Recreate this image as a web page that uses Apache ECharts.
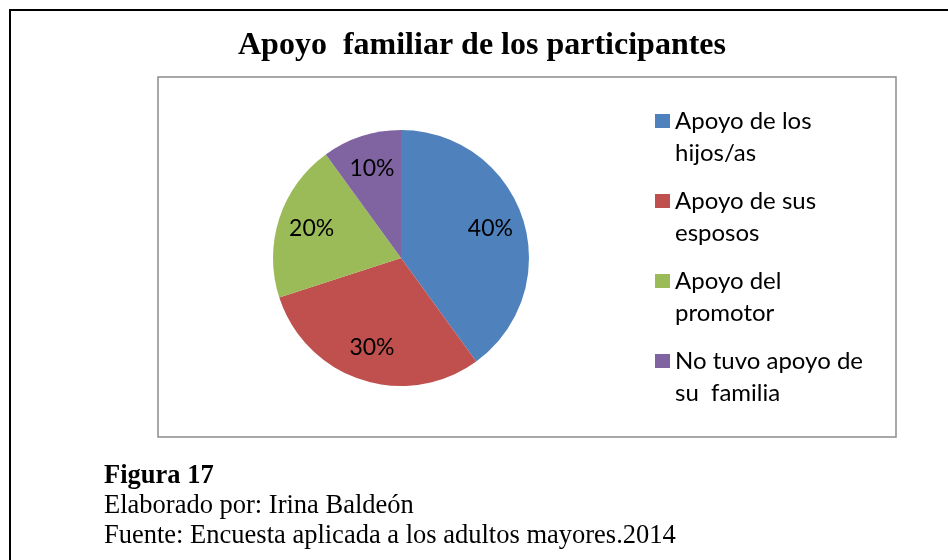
<!DOCTYPE html>
<html>
<head>
<meta charset="utf-8">
<script src="https://cdn.jsdelivr.net/npm/echarts@6/dist/echarts.min.js"></script>
<style>
  html, body { margin: 0; padding: 0; background: #fff; }
  #J_chart { width: 948px; height: 560px; }
</style>
</head>
<body>
<div id="J_chart"></div>
<script>
// datos
var categories = ['Apoyo de los\nhijos/as', 'Apoyo de sus\nesposos', 'Apoyo del\npromotor', 'No tuvo apoyo de\nsu  familia'];
var values = [40, 30, 20, 10];
var colors = ['#4F81BD', '#C0504D', '#9BBB59', '#8064A2'];
var titleText = 'Apoyo  familiar de los participantes';
var figureText = 'Figura 17';
var notes = ['Elaborado por: Irina Baldeón', 'Fuente: Encuesta aplicada a los adultos mayores.2014'];

(function(){
    var myChart = echarts.init(document.getElementById('J_chart'));

    var pieData = [];
    for (var i = 0; i < categories.length; i++) {
        pieData.push({ name: categories[i], value: values[i] });
    }

    var option = {
        animation: false,
        color: colors,
        title: {
            left: 477,
            textAlign: 'center',
            top: 25,
            text: titleText,
            textStyle: {
                color: '#000',
                fontFamily: '"Liberation Serif", "Times New Roman", serif',
                fontWeight: 'bold',
                fontSize: 32
            }
        },
        legend: {
            orient: 'vertical',
            left: 655,
            top: 73,
            padding: 0,
            itemWidth: 15,
            itemHeight: 14,
            itemGap: -16,
            icon: 'rect',
            selectedMode: false,
            data: categories,
            // linea vacia al inicio: asi el icono queda junto a la primera linea
            formatter: function (name) { return '\n' + name; },
            textStyle: {
                color: '#000',
                fontFamily: 'Lato, "Noto Sans", sans-serif',
                fontSize: 24,
                lineHeight: 32
            }
        },
        graphic: [
            {
                type: 'rect',
                silent: true,
                shape: { x: 10, y: 10, width: 980, height: 600 },
                style: { fill: 'none', stroke: '#000', lineWidth: 2 }
            },
            {
                type: 'rect',
                silent: true,
                shape: { x: 158, y: 77, width: 738, height: 360 },
                style: { fill: 'none', stroke: '#8c8c8c', lineWidth: 1.5 }
            },
            {
                type: 'text',
                left: 104,
                top: 461,
                style: {
                    text: figureText,
                    fill: '#000',
                    font: 'bold 26.5px "Liberation Serif", serif',
                    lineHeight: 30
                }
            },
            {
                type: 'text',
                left: 104,
                top: 491,
                style: {
                    text: notes.join('\n'),
                    fill: '#000',
                    font: '26.5px "Liberation Serif", serif',
                    lineHeight: 30
                }
            }
        ],
        series: [
            {
                name: 'Apoyo familiar',
                type: 'pie',
                center: [401, 258],
                radius: [0, 128],
                startAngle: 90,
                clockwise: true,
                silent: true,
                label: { show: false },
                labelLine: { show: false },
                itemStyle: { borderWidth: 0 },
                data: pieData
            },
            {
                // anillo transparente solo para ubicar las etiquetas
                name: 'etiquetas',
                type: 'pie',
                center: [401, 258],
                radius: [54, 128],
                startAngle: 90,
                clockwise: true,
                silent: true,
                itemStyle: { color: 'rgba(0,0,0,0)' },
                label: {
                    show: true,
                    position: 'inside',
                    formatter: '{c}%',
                    color: '#000',
                    fontFamily: 'Lato, "Noto Sans", sans-serif',
                    fontSize: 23
                },
                labelLine: { show: false },
                data: pieData
            }
        ]
    };

    myChart.setOption(option);
})();
</script>
</body>
</html>
